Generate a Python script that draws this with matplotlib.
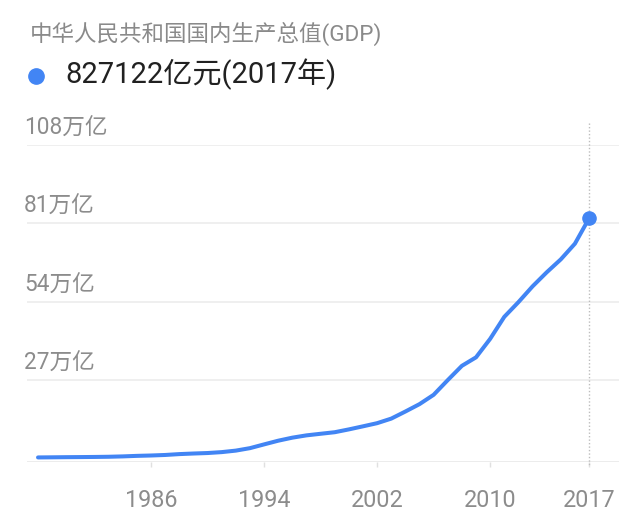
import matplotlib
matplotlib.use("Agg")
import matplotlib.pyplot as plt
import matplotlib.transforms as mtransforms

plt.rcParams['font.family'] = ['Roboto', 'Noto Sans CJK SC', 'DejaVu Sans']

# GDP 1978-2017, 亿元
years = list(range(1978, 2018))
gdp = [3679, 4101, 4588, 4936, 5373, 6021, 7279, 9099, 10376, 12175,
       15180, 17180, 18873, 22006, 27195, 35673, 48638, 61340, 71814, 79715,
       85196, 90564, 100280, 110863, 121717, 137422, 161840, 187319, 219439, 270092,
       319245, 348518, 412119, 487940, 538580, 592963, 641281, 685993, 740061, 827122]
gdp_wan_yi = [v / 10000 for v in gdp]  # 万亿

y_ticks = [27, 54, 81, 108]
y_labels = ["27万亿", "54万亿", "81万亿", "108万亿"]
x_ticks = [1986, 1994, 2002, 2010, 2017]

title = "中华人民共和国国内生产总值(GDP)"
headline = "827122亿元(2017年)"

blue = "#4285f4"
grid_c = "#ebebeb"
label_c = "#8c8c8c"

fig = plt.figure(figsize=(6.4, 5.21), dpi=100)
ax = fig.add_axes([27 / 640, 1 - 461.7 / 521, 592 / 640, 316.7 / 521])

ax.set_xlim(1977.22, 2019.12)
ax.set_ylim(-1.1, 108)

# gridlines
for v in y_ticks:
    ax.axhline(v, color=grid_c, lw=1.1, zorder=1)
ax.axhline(-1.1, color=grid_c, lw=1.3, zorder=1)

# y labels above the gridlines
off = mtransforms.offset_copy(ax.get_yaxis_transform(), fig=fig, x=0, y=7.5, units='points')
for v, lab in zip(y_ticks, y_labels):
    ax.text(-0.005, v, lab, transform=off, ha='left', va='baseline',
            fontsize=16.3, color=label_c)

# dotted line at last year
trans = ax.get_xaxis_transform()
ax.plot([years[-1], years[-1]], [1.069, -0.011], transform=trans, color="#bdbdbd",
        lw=1.0, ls=(0, (1, 1.5)), clip_on=False, zorder=2)

ax.plot(years, gdp_wan_yi, color=blue, lw=2.9, solid_joinstyle='round',
        solid_capstyle='round', zorder=3)
ax.plot(years[-1], gdp_wan_yi[-1], 'o', color=blue, markersize=9.5, zorder=4)

ax.set_yticks([])
ax.set_xticks(x_ticks)
ax.set_xticklabels([str(x) for x in x_ticks])
ax.tick_params(axis='x', length=3.5, width=1, color="#e0e0e0", pad=16,
               labelsize=16.8, labelcolor=label_c)
for s in ax.spines.values():
    s.set_visible(False)

fig.text(30 / 640, 1 - 34 / 521, title, fontsize=16.2, color="#8a8a8a",
         ha='left', va='center')
fig.text(65 / 640, 1 - 74 / 521, headline, fontsize=21, color="#212121",
         ha='left', va='center')
fig.add_artist(plt.Line2D([36 / 640], [1 - 76 / 521], marker='o', markersize=11,
                          color=blue, transform=fig.transFigure))

fig.savefig("out.png", dpi=100)
